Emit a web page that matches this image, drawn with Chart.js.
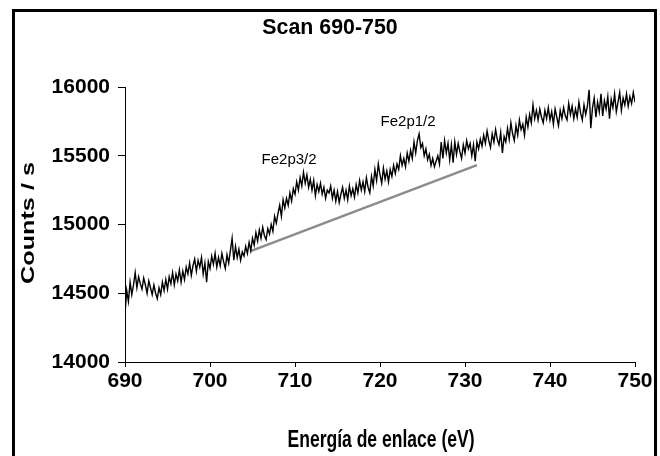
<!DOCTYPE html>
<html>
<head>
<meta charset="utf-8">
<title>Scan 690-750</title>
<script src="https://cdn.jsdelivr.net/npm/chart.js@4.4.1/dist/chart.umd.min.js"></script>
<style>
  html, body { margin: 0; padding: 0; background: #fff; }
  #wrap { width: 660px; height: 456px; position: relative; }
</style>
</head>
<body>
<div id="wrap"><canvas id="chart"></canvas></div>
<script>
// Escaneo XPS 690-750 eV, un punto cada 0.2 eV
const chartTitle = 'Scan 690-750';
const xTitle = 'Energía de enlace (eV)';
const yTitle = 'Counts / s';
const energyStart = 690;
const energyStep = 0.2;
const counts = [
  14350, 14520, 14440, 14580, 14490,  // 690
  14560, 14650, 14540, 14620, 14570,  // 691
  14530, 14610, 14560, 14500, 14590,  // 692
  14540, 14490, 14560, 14500, 14460,  // 693
  14540, 14490, 14580, 14520, 14600,  // 694
  14530, 14620, 14570, 14650, 14560,  // 695
  14640, 14590, 14670, 14580, 14660,  // 696
  14600, 14690, 14640, 14720, 14630,  // 697
  14700, 14750, 14660, 14740, 14690,  // 698
  14760, 14640, 14720, 14580, 14730,  // 699
  14680, 14770, 14710, 14790, 14690,  // 700
  14760, 14700, 14790, 14730, 14680,  // 701
  14780, 14720, 14810, 14900, 14740,  // 702
  14840, 14760, 14820, 14740, 14800,  // 703
  14770, 14840, 14790, 14870, 14810,  // 704
  14900, 14850, 14940, 14880, 14960,  // 705
  14900, 14980, 14920, 14890, 14970,  // 706
  14930, 15000, 14950, 15060, 15010,  // 707
  15080, 15140, 15060, 15180, 15120,  // 708
  15190, 15140, 15230, 15170, 15260,  // 709
  15220, 15310, 15250, 15340, 15280,  // 710
  15380, 15300, 15360, 15270, 15330,  // 711
  15250, 15320, 15210, 15290, 15240,  // 712
  15300, 15220, 15270, 15190, 15250,  // 713
  15230, 15280, 15190, 15250, 15170,  // 714
  15240, 15160, 15220, 15270, 15190,  // 715
  15250, 15180, 15280, 15210, 15260,  // 716
  15200, 15290, 15230, 15320, 15250,  // 717
  15310, 15240, 15340, 15270, 15230,  // 718
  15350, 15280, 15400, 15320, 15440,  // 719
  15360, 15300, 15410, 15330, 15390,  // 720
  15310, 15400, 15350, 15430, 15370,  // 721
  15440, 15400, 15500, 15430, 15480,  // 722
  15420, 15520, 15460, 15540, 15480,  // 723
  15600, 15520, 15610, 15660, 15560,  // 724
  15590, 15500, 15550, 15470, 15510,  // 725
  15430, 15480, 15420, 15460, 15500,  // 726
  15440, 15600, 15480, 15610, 15520,  // 727
  15590, 15470, 15580, 15450, 15600,  // 728
  15510, 15590, 15530, 15480, 15580,  // 729
  15520, 15610, 15550, 15590, 15500,  // 730
  15580, 15460, 15600, 15550, 15620,  // 731
  15570, 15650, 15590, 15680, 15610,  // 732
  15560, 15660, 15600, 15690, 15620,  // 733
  15580, 15670, 15520, 15640, 15600,  // 734
  15700, 15620, 15740, 15660, 15610,  // 735
  15720, 15650, 15760, 15690, 15730,  // 736
  15650, 15780, 15710, 15800, 15740,  // 737
  15870, 15770, 15830, 15760, 15840,  // 738
  15780, 15740, 15830, 15770, 15850,  // 739
  15760, 15820, 15730, 15840, 15780,  // 740
  15720, 15830, 15770, 15850, 15790,  // 741
  15760, 15880, 15800, 15860, 15770,  // 742
  15840, 15780, 15890, 15810, 15760,  // 743
  15870, 15800, 15860, 15980, 15700,  // 744
  15850, 15920, 15780, 15890, 15820,  // 745
  15950, 15790, 15900, 15840, 15930,  // 746
  15770, 15910, 15850, 15950, 15820,  // 747
  15890, 15960, 15830, 15920, 15870,  // 748
  15950, 15860, 15930, 15880, 15960,  // 749
  15890                               // 750
];

// linea de fondo (gris)
const baselineEnergy = [704.7, 731.4];
const baselineCounts = [14805, 15432];

// etiquetas de los picos
const peakLabels = ['Fe2p3/2', 'Fe2p1/2'];
const peakEnergy = [709.3, 723.3];
const peakCounts = [15470, 15750];

const xTicks = [690, 700, 710, 720, 730, 740, 750];
const yTicks = [14000, 14500, 15000, 15500, 16000];

const spectrum = counts.map((c, i) => ({ x: +(energyStart + i * energyStep).toFixed(1), y: c }));
const baseline = baselineEnergy.map((e, i) => ({ x: e, y: baselineCounts[i] }));

const fontFamily = '"Liberation Sans", Arial, sans-serif';

// texto estrecho: el original tiene las letras algo comprimidas
function squeezedText(ctx, text, x, y, sx, sy, angle) {
  ctx.save();
  ctx.translate(x, y);
  if (angle) ctx.rotate(angle);
  ctx.scale(sx, sy);
  ctx.fillText(text, 0, 0);
  ctx.restore();
}

// titulos, marco negro y etiquetas de los picos
const extras = {
  id: 'extras',
  afterDatasetsDraw(chart) {
    const { ctx, scales } = chart;
    ctx.save();
    ctx.fillStyle = '#000';
    ctx.textAlign = 'center';
    ctx.textBaseline = 'middle';
    ctx.font = '15px ' + fontFamily;
    peakLabels.forEach((t, i) => {
      ctx.fillText(t, scales.x.getPixelForValue(peakEnergy[i]), scales.y.getPixelForValue(peakCounts[i]));
    });
    ctx.font = 'bold 22px ' + fontFamily;
    squeezedText(ctx, chartTitle, 330, 28, 0.97, 1);

    ctx.font = 'bold 24px ' + fontFamily;
    squeezedText(ctx, xTitle, 381, 440, 0.73, 1);
    squeezedText(ctx, yTitle, 29, 223, 1.05, 0.8, -Math.PI / 2);
    ctx.restore();
  },
  afterDraw(chart) {
    const ctx = chart.ctx;
    ctx.save();
    ctx.strokeStyle = '#000';
    ctx.lineWidth = 3;
    ctx.strokeRect(13.5, 10.5, 642, 470);
    ctx.restore();
  }
};

new Chart(document.getElementById('chart'), {
  type: 'line',
  data: {
    datasets: [
      {
        label: 'Espectro',
        data: spectrum,
        borderColor: '#000',
        borderWidth: 1.4,
        pointRadius: 0,
        tension: 0
      },
      {
        label: 'Fondo',
        data: baseline,
        borderColor: '#8c8c8c',
        borderWidth: 2.5,
        pointRadius: 0
      }
    ]
  },
  options: {
    responsive: true,
    maintainAspectRatio: false,
    animation: false,
    layout: { padding: { left: 0, right: 25, top: 87, bottom: 0 } },
    plugins: {
      legend: { display: false },
      tooltip: { enabled: false },
      title: { display: false }
    },
    scales: {
      x: {
        type: 'linear',
        min: 690,
        max: 750,
        afterBuildTicks: (s) => { s.ticks = xTicks.map(v => ({ value: v })); },
        afterFit: (s) => { s.height = 94; },
        grid: { drawOnChartArea: false, drawTicks: true, tickLength: 5, color: '#000' },
        border: { display: true, color: '#000', width: 1 },
        ticks: {
          color: '#000',
          padding: 2,
          maxRotation: 0,
          callback: (v) => String(v),
          font: { family: fontFamily, size: 21, weight: 'bold' }
        }
      },
      y: {
        min: 14000,
        max: 16000,
        afterBuildTicks: (s) => { s.ticks = yTicks.map(v => ({ value: v })); },
        afterFit: (s) => { s.width = 125; },
        grid: { drawOnChartArea: false, drawTicks: true, tickLength: 7, color: '#000' },
        border: { display: true, color: '#000', width: 1 },
        ticks: {
          color: '#000',
          padding: 8,
          callback: (v) => String(v),
          font: { family: fontFamily, size: 21, weight: 'bold' }
        }
      }
    }
  },
  plugins: [extras]
});
</script>
</body>
</html>
